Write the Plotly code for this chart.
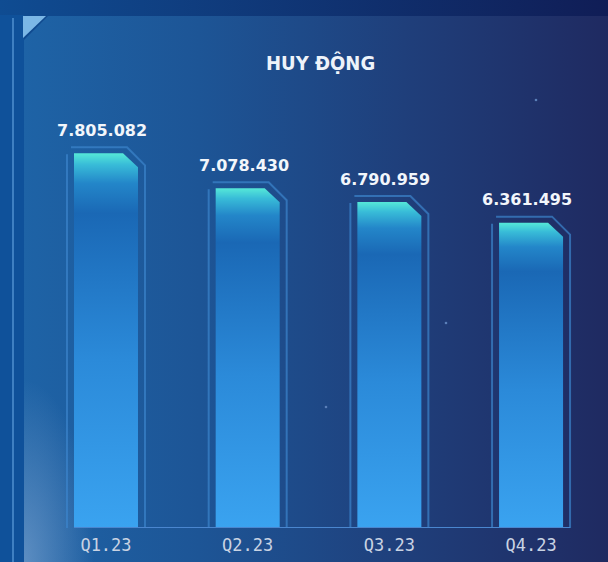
import base64
import plotly.graph_objects as go

# ---- data ----
categories = ["Q1.23", "Q2.23", "Q3.23", "Q4.23"]
values = [7805082, 7078430, 6790959, 6361495]
title_text = "HUY ĐỘNG"

# ---- geometry / style constants ----
W, H = 608, 562
M_B = 34
PLOT_H = H - M_B
X_RANGE = [-0.748, 3.543]
Y_RANGE = [0, 11_000_000]
PX_X = (X_RANGE[1] - X_RANGE[0]) / W          # x units per pixel
PX_Y = (Y_RANGE[1] - Y_RANGE[0]) / PLOT_H     # y units per pixel

HALF_W = 32 * PX_X
CH_X, CH_Y = 15 * PX_X, 14 * PX_Y

def fmt(v):
    return f"{v:,}".replace(",", ".")

# ---- background (decorative svg) ----
svg = f"""<svg xmlns='http://www.w3.org/2000/svg' width='{W}' height='{H}' viewBox='0 0 {W} {H}' preserveAspectRatio='none'>
<defs>
<linearGradient id='p' x1='0' y1='0' x2='1' y2='0'>
<stop offset='0' stop-color='#1e63a6'/>
<stop offset='0.3' stop-color='#1d5596'/>
<stop offset='0.65' stop-color='#1f3f7b'/>
<stop offset='1' stop-color='#1f2a61'/>
</linearGradient>
<linearGradient id='t' x1='0' y1='0' x2='1' y2='0'>
<stop offset='0' stop-color='#0f4c92'/>
<stop offset='1' stop-color='#101d56'/>
</linearGradient>
<radialGradient id='g' cx='0' cy='1' r='1'>
<stop offset='0' stop-color='#8fb0d8' stop-opacity='0.55'/>
<stop offset='1' stop-color='#8fb0d8' stop-opacity='0'/>
</radialGradient>
</defs>
<rect width='{W}' height='{H}' fill='url(#t)'/>
<rect x='0' y='15' width='24' height='{H-15}' fill='#0f519a'/>
<polygon points='24,40 48,16 {W},16 {W},{H} 24,{H}' fill='url(#p)'/>
<rect x='24' y='380' width='70' height='{H-380}' fill='url(#g)'/>
<line x1='13' y1='18' x2='13' y2='{H}' stroke='#3f80c2' stroke-width='2'/>
<polygon points='23,16 46,16 23,38' fill='#7bb7e6'/>
<circle cx='536' cy='100' r='1.3' fill='#5a7fb8'/>
<circle cx='446' cy='323' r='1.3' fill='#5a7fb8'/>
<circle cx='326' cy='407' r='1.3' fill='#5a7fb8'/>
</svg>"""
src = "data:image/svg+xml;base64," + base64.b64encode(svg.encode()).decode()

fig = go.Figure()

colorscale = [
    [0.0, "#3aa3f0"],
    [0.45, "#2b8ad9"],
    [0.84, "#1a68b5"],
    [0.92, "#2386c9"],
    [0.97, "#38bcd8"],
    [1.0, "#55e8d8"],
]
frame_col = "rgba(60,132,204,0.7)"

for i, (cat, v) in enumerate(zip(categories, values)):
    x0, x1 = i - HALF_W, i + HALF_W
    # gradient bar with chamfered top-right corner
    fig.add_trace(go.Scatter(
        x=[x0, x0, x1 - CH_X, x1, x1, x0],
        y=[0, v, v, v - CH_Y, 0, 0],
        fill="toself", mode="lines", line=dict(width=0),
        fillgradient=dict(type="vertical", colorscale=colorscale, start=0, stop=v),
        hoverinfo="text", text=f"{cat}: {fmt(v)}", name=cat, showlegend=False,
    ))
    # left frame line
    fx0 = x0 - 7 * PX_X
    fig.add_trace(go.Scatter(
        x=[fx0, fx0], y=[0, v - 1 * PX_Y], mode="lines",
        line=dict(color=frame_col, width=2), hoverinfo="skip", showlegend=False,
    ))
    # top / right frame
    fy = v + 6 * PX_Y
    fx1 = x1 + 7 * PX_X
    fig.add_trace(go.Scatter(
        x=[x0 - 3 * PX_X, x1 - 11 * PX_X, fx1, fx1],
        y=[fy, fy, fy - 18 * PX_Y, 0], mode="lines",
        line=dict(color=frame_col, width=2), hoverinfo="skip", showlegend=False,
    ))
    fig.add_annotation(
        x=i, y=v, xref="x", yref="y", text=fmt(v), showarrow=False,
        yshift=23, xshift=-4,
        font=dict(family="DejaVu Sans", size=16, color="#f2f6fb", weight="bold"),
    )

# baseline
fig.add_trace(go.Scatter(
    x=[-HALF_W, len(categories) - 1 + HALF_W + 7 * PX_X], y=[0, 0], mode="lines",
    line=dict(color="#4a86cf", width=2), hoverinfo="skip", showlegend=False,
))

fig.add_annotation(
    x=(320) / W, y=(PLOT_H - 63) / PLOT_H, xref="paper", yref="paper",
    text=title_text, showarrow=False, yanchor="middle",
    font=dict(family="DejaVu Sans Condensed", size=20, color="#eef3fa", weight="bold"),
)

fig.update_layout(
    width=W, height=H, autosize=False,
    margin=dict(l=0, r=0, t=0, b=M_B, pad=0),
    paper_bgcolor="#1c4a88", plot_bgcolor="rgba(0,0,0,0)",
    images=[dict(source=src, xref="paper", yref="paper", x=0, y=1,
                 sizex=1, sizey=H / PLOT_H, sizing="stretch",
                 xanchor="left", yanchor="top", layer="below")],
    xaxis=dict(range=X_RANGE, tickvals=list(range(len(categories))), ticktext=categories,
               showgrid=False, zeroline=False, showline=False,
               ticks="outside", ticklen=2, tickcolor="rgba(0,0,0,0)",
               tickfont=dict(family="DejaVu Sans Mono", size=17, color="#c9d3e3"),
               fixedrange=True),
    yaxis=dict(range=Y_RANGE, visible=False, showgrid=False, zeroline=False, fixedrange=True),
    showlegend=False,
)

fig.write_html("out.html", config={"displayModeBar": False},
               post_script="document.body.style.margin='0';document.body.style.overflow='hidden';")
